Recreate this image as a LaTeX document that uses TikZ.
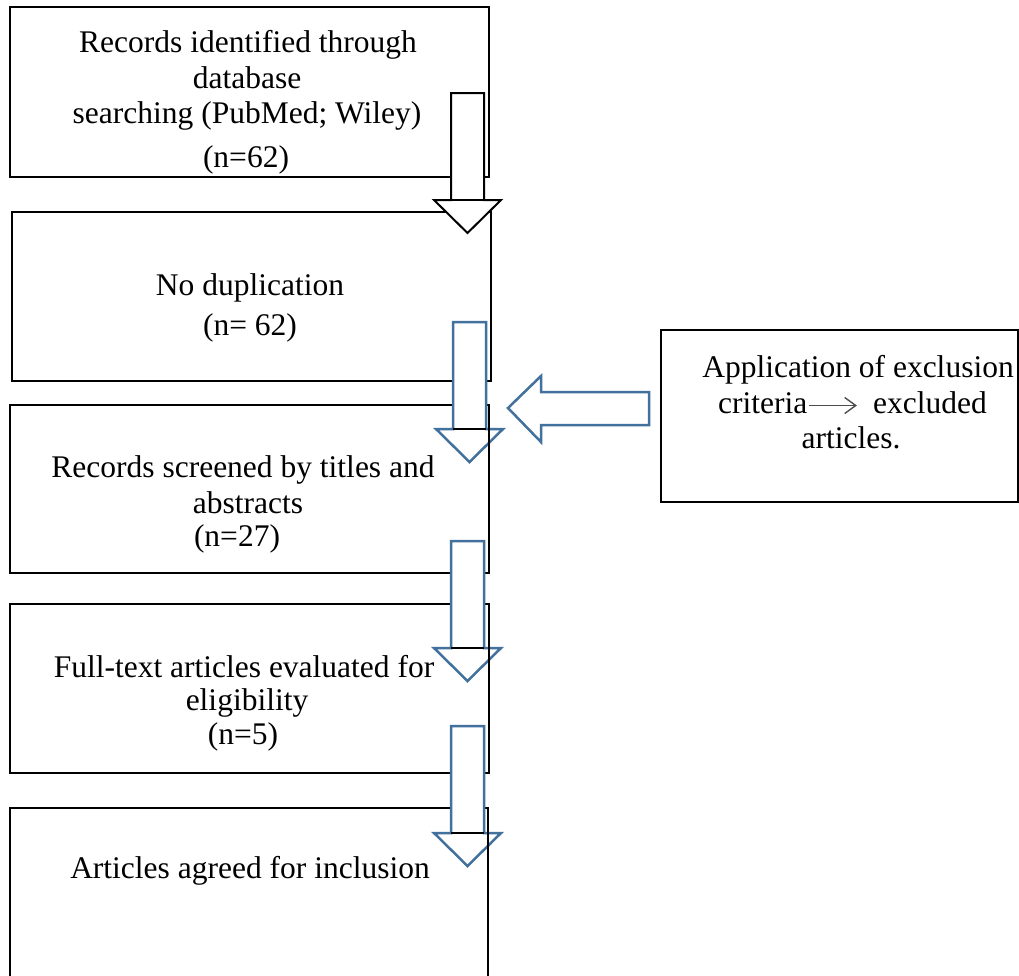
\documentclass[tikz,border=0pt]{standalone}
\usepackage{fontspec}
\setmainfont{Liberation Serif}
\usetikzlibrary{arrows.meta}
\definecolor{arrowblue}{RGB}{65,113,156}
\tikzset{
  box/.style={draw=black, line width=2pt, fill=white, outer sep=0pt, inner sep=0pt},
  txt/.style={anchor=base, inner sep=0pt, font=\fontsize{31.5}{36}\selectfont},
  dnarrow/.pic={
    \draw[fill=white, line join=miter, pic actions] (-16.5,0) -- (16.5,0) -- (16.5,107) -- (33.5,107) -- (0,140) -- (-33.5,107) -- (-16.5,107) -- cycle;
    \draw[black, line width=2pt] (-16.5,107) -- (16.5,107);
  }
}
\begin{document}
\begin{tikzpicture}[x=1pt,y=-1pt]
\clip (0,0) rectangle (1019,975);
\fill[white] (0,0) rectangle (1019,975);
% boxes
\node[box, minimum width=479pt, minimum height=170pt] (b1) at (249.5,92) {};
\node[box, minimum width=479pt, minimum height=169pt] (b2) at (251.5,296.5) {};
\node[box, minimum width=479pt, minimum height=168pt] (b3) at (249.5,489) {};
\node[box, minimum width=479pt, minimum height=169pt] (b4) at (249.5,688.5) {};
\node[box, minimum width=478pt, minimum height=220pt] (b5) at (249,918) {};
\node[box, minimum width=357pt, minimum height=172pt] (ex) at (839.5,416) {};
% texts
\node[txt] (t1a) at (248,52) {Records identified through};
\node[txt] (t1b) at (247,88) {database};
\node[txt] (t1c) at (247,123) {searching (PubMed; Wiley)};
\node[txt] (t1d) at (246,167) {(n=62)};
\node[txt] (t2a) at (250,295) {No duplication};
\node[txt] (t2b) at (250,335) {(n= 62)};
\node[txt] (t3a) at (243,477) {Records screened by titles and};
\node[txt] (t3b) at (248,513) {abstracts};
\node[txt] (t3c) at (237,546) {(n=27)};
\node[txt] (t4a) at (244,677) {Full-text articles evaluated for};
\node[txt] (t4b) at (247,710) {eligibility};
\node[txt] (t4c) at (243,744) {(n=5)};
\node[txt] (t5a) at (250,878) {Articles agreed for inclusion};
\node[txt] (tea) at (858,377) {Application of exclusion};
\node[txt, anchor=base west] (teb1) at (718,413) {criteria};
\node[txt, anchor=base east] (teb2) at (987,413) {excluded};
\node[txt] (tec) at (851,448) {articles.};
\draw[black!70, line width=1.4pt, line join=miter, -{Straight Barb[length=11pt, width=16pt]}]
  ([shift={(1pt,7.5pt)}]teb1.base east) -- ([shift={(-16pt,7.5pt)}]teb2.base west);
% block arrows
\coordinate (a1) at (467.5,93);
\coordinate (a2) at (469.5,322);
\coordinate (a3) at (467.5,541);
\coordinate (a4) at (467.5,726);
\pic[draw=black, line width=2pt] at (a1) {dnarrow};
\pic[draw=arrowblue, line width=2.5pt] at (a2) {dnarrow};
\pic[draw=arrowblue, line width=2.5pt] at (a3) {dnarrow};
\pic[draw=arrowblue, line width=2.5pt] at (a4) {dnarrow};
% right edges visible through arrow heads
\draw[black, line width=2pt] (b3.north east) -- (b3.south east);
\draw[black, line width=2pt] (b4.north east) -- (b4.south east);
\draw[black, line width=2pt] (b5.north east) -- (b5.south east);
% left block arrow from exclusion box
\coordinate (lt) at (508,408);
\draw[draw=arrowblue, line width=2.5pt, fill=white, line join=miter]
  (lt) -- ++(33,-32) -- ++(0,16) -- ++(108,0) -- ++(0,33) -- ++(-108,0) -- ++(0,17) -- cycle;
\end{tikzpicture}
\end{document}
